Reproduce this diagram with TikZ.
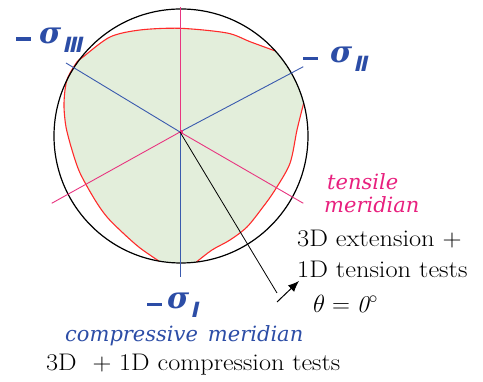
\documentclass[tikz,border=0pt]{standalone}
\usepackage{amsmath}
\usepackage{fontspec}
\newfontfamily\djs{DejaVu Serif}
\newfontfamily\romf[FakeSlant=0.22]{DejaVu Sans}
\usetikzlibrary{arrows.meta}
\definecolor{sblue}{HTML}{3A5AAE}
\definecolor{tblue}{HTML}{2C4DA6}
\definecolor{spink}{HTML}{E83580}
\definecolor{tpink}{HTML}{E8207E}
\definecolor{sred}{HTML}{FF2B2B}
\definecolor{sfill}{HTML}{E3EEDB}
\newcommand{\msig}[2]{\rule[2.5pt]{15pt}{3.6pt}\hspace{#1}{\djs\bfseries\itshape\fontsize{30}{30}\selectfont σ}\hspace{1pt}\raisebox{-9pt}{\romf\bfseries\fontsize{21}{21}\selectfont #2}}
\begin{document}
\begin{tikzpicture}[x=1pt,y=1pt,
  bluel/.style={draw=sblue,line width=0.9pt},
  pinkl/.style={draw=spink,line width=0.9pt},
  redl/.style={draw=sred,line width=1.1pt},
  lab/.style={inner sep=0pt,anchor=base west},
  blk/.style={lab,font=\fontsize{24}{24}\selectfont},
  sig/.style={lab,text=tblue,font=\fontsize{26}{26}\selectfont},
  ital/.style={lab,font=\djs\itshape\fontsize{21}{21}\selectfont}]
\useasboundingbox (0,0) rectangle (483,382);
\coordinate (c) at (180,250);
\coordinate (o) at (181,246);
% failure surface fill
\fill[sfill] (159,120.9) -- plot[smooth] coordinates {(159,120.9) (140,134) (123,149) (107,165) (95,182) (80,209) (72,232) (66,255) (64,275) (65,292) (68,305) (77,320) (83,325) (110,345) (140,352) (180,353.7) (227,349) (250,340.3) (275.4,331.0)}
  arc[start angle=42,end angle=15,radius=127]
  -- plot[smooth] coordinates {(303.7,278.9) (297,252) (290,218.7) (275,192) (263,175) (247,155) (230,142) (212,132) (196.5,120)}
  arc[start angle=-83,end angle=-100,radius=127] -- cycle;
\draw[redl] plot[smooth] coordinates {(159,120.9) (140,134) (123,149) (107,165) (95,182) (80,209) (72,232) (66,255) (64,275) (65,292) (68,305) (77,320) (83,325) (110,345) (140,352) (180,353.7) (227,349) (250,340.3) (275.4,331.0)};
\draw[redl] plot[smooth] coordinates {(303.7,278.9) (297,252) (290,218.7) (275,192) (263,175) (247,155) (230,142) (212,132) (196.5,120)};
\draw[line width=1.2pt] (o) circle[radius=127];
% axes
\coordinate (pu) at (180,375);
\coordinate (bd) at (180,105);
\coordinate (bul) at (66,319);
\coordinate (bur) at (303.3,315.3);
\coordinate (pll) at (51.7,178.7);
\coordinate (plr) at (303.3,178.7);
\draw[pinkl] (c) -- (pu);
\draw[pinkl] (c) -- (pll);
\draw[pinkl] (c) -- (plr);
\draw[bluel] (c) -- (bd);
\draw[bluel] (c) -- (bul);
\draw[bluel] (c) -- (bur);
\fill[spink] (179.5,248) rectangle (183,251.5);
% pointer
\coordinate (e) at (277,89);
\draw[line width=0.8pt] (c) -- (e);
\coordinate (a1) at (277,80);
\coordinate (a2) at (299,101);
\draw[line width=1pt,-{Latex[length=11pt,width=9pt]}] (a1) -- (a2);
% labels
\node[sig] (s3) at (16,338.7) {\msig{8pt}{Ⅲ}};
\node[sig] (s2) at (303,319) {\msig{12pt}{Ⅱ}};
\node[sig] (s1) at (147,73) {\msig{5pt}{Ⅰ}};
\node[ital,text=tpink] (t1) at (327,192) {tensile};
\node[ital,text=tpink] (t2) at (324,169) {meridian};
\node[blk] (x1) at (297,135) {\scalebox{1.1}[1]{3D extension +}};
\node[blk] (x2) at (297,104) {\scalebox{1.1}[1]{1D tension tests}};
\node[blk] (th) at (313,69) {$\theta = \mathit{0}^\circ$};
\node[ital,text=tblue] (cm) at (65,40) {compressive\hspace{10pt}meridian};
\node[blk] (x3) at (46,11) {\scalebox{1.09}[1]{3D\ \ + 1D compression tests}};
\end{tikzpicture}
\end{document}
